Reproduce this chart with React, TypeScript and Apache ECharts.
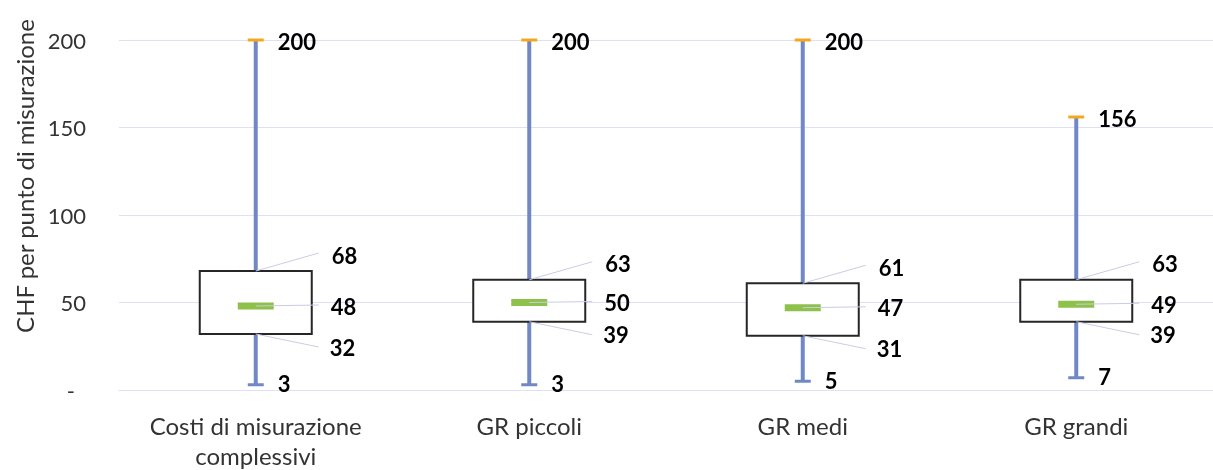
import React, { useEffect, useRef } from "react";
import * as echarts from "echarts";

const categories = ["Costi di misurazione\ncomplessivi", "GR piccoli", "GR medi", "GR grandi"];
const minValues = [3, 3, 5, 7];
const q1Values = [32, 39, 31, 39];
const medianValues = [48, 50, 47, 49];
const q3Values = [68, 63, 61, 63];
const maxValues = [200, 200, 200, 156];
const yTicks = [0, 50, 100, 150, 200];
const yTitle = "CHF per punto di misurazione";

const FONT = "Lato, 'Noto Sans', sans-serif";
const GRID_COLOR = "#DEE1F1";
const WHISKER = "#7088C6";
const CAP_TOP = "#F4A81D";
const MEDIAN = "#8DC149";
const LEADER = "#C9CDE6";

export default function App() {
  const ref = useRef<HTMLDivElement>(null);
  useEffect(() => {
    if (!ref.current) return;
    const chart = echarts.init(ref.current, undefined, { renderer: "svg" });
    const data = categories.map((_, i) => [i, minValues[i], q1Values[i], medianValues[i], q3Values[i], maxValues[i]]);
    const option: any = {
      animation: false,
      grid: { left: 119, top: 40, width: 1106, height: 354 },
      xAxis: {
        type: "category",
        data: categories,
        axisLine: { lineStyle: { color: GRID_COLOR, width: 1 } },
        axisTick: { show: false },
        axisLabel: {
          color: "#333",
          fontFamily: FONT,
          fontSize: 24,
          lineHeight: 30,
          margin: 20,
          interval: 0,
          hideOverlap: false,
        },
      },
      yAxis: {
        type: "value",
        min: yTicks[0],
        max: yTicks[yTicks.length - 1],
        interval: 50,
        axisLine: { show: false },
        axisTick: { show: false },
        splitLine: { lineStyle: { color: GRID_COLOR, width: 1 } },
        axisLabel: {
          color: "#333",
          fontFamily: FONT,
          fontSize: 22,
          margin: 33,
          formatter: (v: number) => (v === 0 ? "{d|-}" : String(v)),
          rich: { d: { color: "#333", fontFamily: FONT, fontSize: 22, padding: [0, 11, 0, 0] } },
        },
      },
      graphic: [
        {
          type: "text",
          x: 24,
          y: 176,
          rotation: Math.PI / 2,
          style: { text: yTitle, align: "center", verticalAlign: "middle", font: `24px ${FONT}`, fill: "#333" },
        },
      ],
      series: [
        {
          type: "custom",
          data,
          clip: false,
          renderItem: (params: any, api: any) => {
            const idx = api.value(0);
            const x = api.coord([idx, 0])[0];
            const y = (v: number) => api.coord([idx, v])[1];
            const vMin = api.value(1), vQ1 = api.value(2), vMed = api.value(3), vQ3 = api.value(4), vMax = api.value(5);
            const yMin = y(vMin), yQ1 = y(vQ1), yMed = y(vMed), yQ3 = y(vQ3), yMax = y(vMax);
            const half = 56;
            const labelFont = `bold 22px ${FONT}`;
            const txt = (text: string, tx: number, ty: number) => ({
              type: "text",
              style: { text, x: tx, y: ty, font: labelFont, fill: "#000", align: "left", verticalAlign: "middle" },
            });
            const line = (x1: number, y1: number, x2: number, y2: number, stroke: string, w: number) => ({
              type: "line",
              shape: { x1, y1, x2, y2 },
              style: { stroke, lineWidth: w },
            });
            const lQ3 = yQ3 - 16, lMed = yMed, lQ1 = yQ1 + 13;
            return {
              type: "group",
              children: [
                line(x, yQ1, x, yMin, WHISKER, 4),
                line(x, yQ3, x, yMax, WHISKER, 4),
                line(x - 8, yMin, x + 8, yMin, WHISKER, 3),
                line(x - 8, yMax, x + 8, yMax, CAP_TOP, 3),
                {
                  type: "rect",
                  shape: { x: x - half, y: yQ3, width: half * 2, height: yQ1 - yQ3 },
                  style: { fill: "#fff", stroke: "#262626", lineWidth: 2 },
                },
                {
                  type: "rect",
                  shape: { x: x - 18, y: yMed - 3.5, width: 36, height: 7 },
                  style: { fill: MEDIAN },
                },
                line(x, yQ3, x + 63, lQ3 - 2, LEADER, 1),
                line(x, yMed, x + 63, lMed - 1, LEADER, 1),
                line(x, yQ1, x + 63, lQ1, LEADER, 1),
                txt(String(vMax), x + 22, yMax + 1),
                txt(String(vMin), x + 22, yMin - 1),
                txt(String(vQ3), x + 76, lQ3),
                txt(String(vMed), x + 75, lMed),
                txt(String(vQ1), x + 74, lQ1),
              ],
            };
          },
        },
      ],
    };
    chart.setOption(option);
    return () => chart.dispose();
  }, []);
  return <div ref={ref} style={{ position: "fixed", left: 0, top: 0, width: 1213, height: 470 }} />;
}
